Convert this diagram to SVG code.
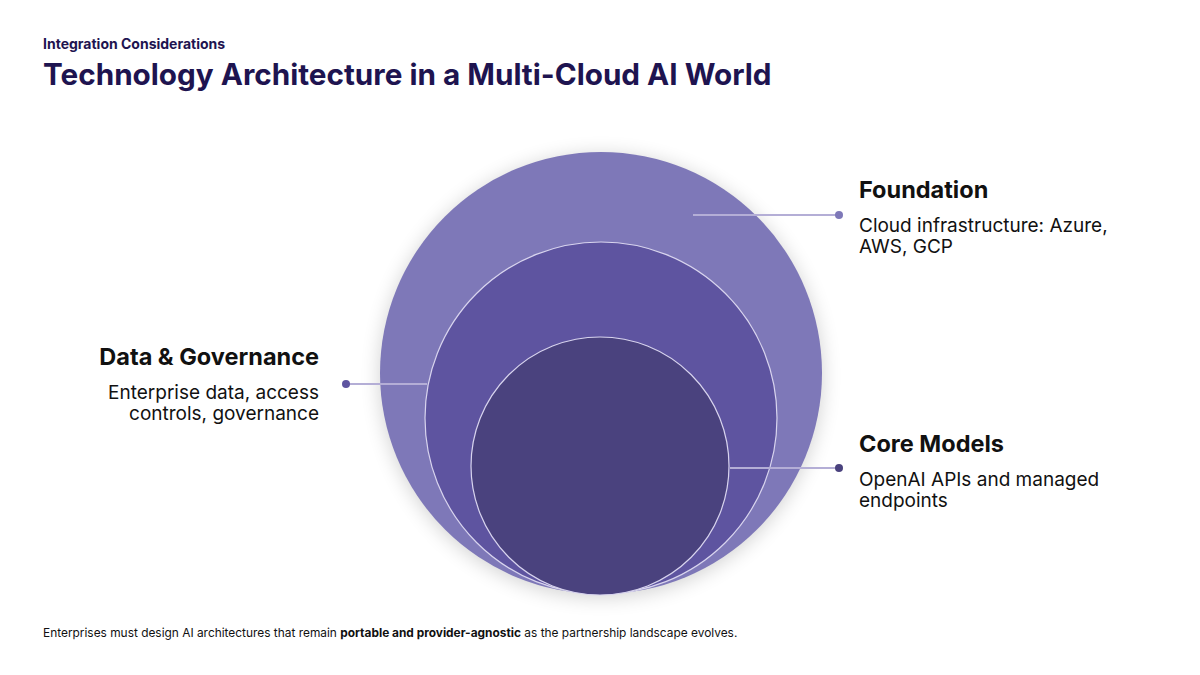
<svg xmlns="http://www.w3.org/2000/svg" width="1200" height="675" viewBox="0 0 1200 675">
<style>
text{font-family:Inter,"Liberation Sans",sans-serif}
.h{font-size:23.5px;font-weight:700;fill:#111}
.b{font-size:19px;fill:#111}
.ln{stroke:#B4AED6;stroke-width:2}
.ring{stroke:#D8D4EE;stroke-width:1.2}
</style>
<defs>
<filter id="sh" x="-20%" y="-20%" width="140%" height="140%"><feGaussianBlur stdDeviation="10"/></filter>
</defs>
<rect width="1200" height="675" fill="#fff"/>
<text x="43" y="49" font-size="14" font-weight="700" fill="#1E1450">Integration Considerations</text>
<text x="43" y="85" font-size="29.7" font-weight="700" fill="#1E1450">Technology Architecture in a Multi-Cloud AI World</text>
<g id="foundation">
<circle cx="601" cy="376" r="221" fill="#000" opacity="0.18" filter="url(#sh)"/>
<circle cx="601" cy="373" r="221" fill="#7E78B8"/>
</g>
<g id="data-governance"><circle cx="601" cy="418" r="176" fill="#5E54A0" class="ring"/></g>
<g id="core-models"><circle cx="600" cy="466" r="129" fill="#4A427E" class="ring"/></g>
<g id="connectors">
<line class="ln" x1="693" y1="215" x2="838" y2="215"/><circle cx="839" cy="215" r="4" fill="#7E78B8"/>
<line class="ln" x1="346" y1="384" x2="427" y2="384"/><circle cx="346" cy="384" r="4" fill="#5E54A0"/>
<line class="ln" x1="730" y1="468" x2="838" y2="468"/><circle cx="839" cy="468" r="4" fill="#4A427E"/>
</g>
<g id="labels">
<text class="h" x="859" y="198">Foundation</text>
<text class="b" x="859" y="232">Cloud infrastructure: Azure,</text>
<text class="b" x="859" y="253">AWS, GCP</text>
<text class="h" x="319" y="365" text-anchor="end">Data &amp; Governance</text>
<text class="b" x="319" y="399" text-anchor="end">Enterprise data, access</text>
<text class="b" x="319" y="420" text-anchor="end">controls, governance</text>
<text class="h" x="859" y="452">Core Models</text>
<text class="b" x="859" y="486">OpenAI APIs and managed</text>
<text class="b" x="859" y="507">endpoints</text>
</g>
<text x="43" y="637" font-size="11.9" fill="#111">Enterprises must design AI architectures that remain <tspan font-weight="700">portable and provider-agnostic</tspan> as the partnership landscape evolves.</text>
</svg>
